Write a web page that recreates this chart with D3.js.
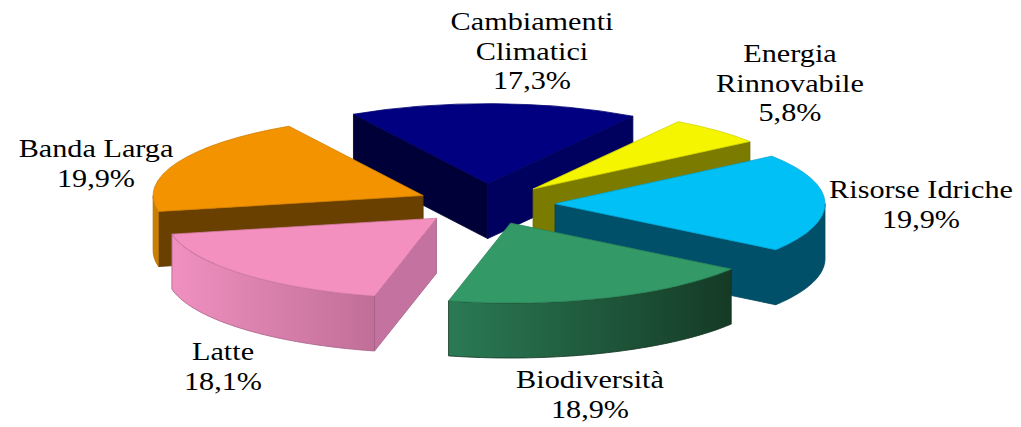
<!DOCTYPE html>
<html>
<head>
<meta charset="utf-8">
<script src="https://cdn.jsdelivr.net/npm/d3@7"></script>
<style>
  html, body { margin: 0; padding: 0; background: #fff; }
  svg { display: block; }
  text { font-family: "Liberation Serif", serif; font-size: 25px; fill: #000; }
</style>
</head>
<body>
<div id="chart"></div>
<script>
// Exploded 3D pie, clockwise starting from the back slice
const names  = ["Cambiamenti Climatici", "Energia Rinnovabile", "Risorse Idriche", "Biodiversità", "Latte", "Banda Larga"];
const values = [17.3, 5.8, 19.9, 18.9, 18.1, 19.9];
const labelLines = [
  ["Cambiamenti", "Climatici", "17,3%"],
  ["Energia", "Rinnovabile", "5,8%"],
  ["Risorse Idriche", "19,9%"],
  ["Biodiversità", "18,9%"],
  ["Latte", "18,1%"],
  ["Banda Larga", "19,9%"],
];

// styling, same order as the slices
const topColors   = ["#000080", "#f5f500", "#00c0f5", "#339966", "#f490c0", "#f39300"];
const startColors = ["#000038", "#7b7b00", "#00506a", "#16392a", "#c4729f", "#6a4000"];
const endColors   = ["#00005e", "#7b7b00", "#00506a", "#16392a", "#c4729f", "#6a4000"];
const wallFrom    = ["#000060", "#7b7b00", "#00506a", "#2a7a55", "#f090c0", "#c98000"];
const wallTo      = ["#000060", "#7b7b00", "#00506a", "#153a25", "#c06f98", "#c98000"];
const labelX = [532, 790, 921, 590, 223, 96];
const labelY = [30, 62, 198, 388, 360, 157];
const lineGap = 29.5;
const textStretch = 1.21;

const W = 1021, H = 427;
const cx = 486, cy = 204;     // pie centre before the explosion
const R = 270, squash = 0.296, depth = 55, explode = 69;
const rad = Math.PI / 180;

const svg = d3.select("#chart").append("svg").attr("width", W).attr("height", H);
const defs = svg.append("defs");

const pie = d3.pie().sort(null).value(d => d)
  .startAngle(-29.8 * rad).endAngle((360 - 29.8) * rad);
const slices = pie(values);

const arc = d3.arc().innerRadius(0).outerRadius(R);

// point on the squashed circle, compass angle (0 = up, clockwise)
const px = (a, r) => r * Math.sin(a);
const py = (a, r) => -r * Math.cos(a) * squash;

const wallArea = d3.area().x(d => d.x).y0(d => d.y).y1(d => d.y + depth);

// painter's order: back slices first
const drawOrder = [0, 5, 1, 2, 3, 4];

drawOrder.forEach(i => {
  const s = slices[i];
  const mid = (s.startAngle + s.endAngle) / 2;
  const ox = cx + px(mid, explode);
  const oy = cy + py(mid, explode);
  const g = svg.append("g").attr("transform", `translate(${ox},${oy})`);

  // straight cut faces, only when they look towards the viewer
  [[s.startAngle, s.startAngle - Math.PI / 2, startColors[i]],
   [s.endAngle,   s.endAngle + Math.PI / 2,   endColors[i]]].forEach(([a, normal, col]) => {
    if (Math.cos(normal) >= 0) return;
    const pts = [{ x: 0, y: 0 }, { x: px(a, R), y: py(a, R) }];
    g.append("path")
      .attr("d", wallArea(pts))
      .attr("fill", col)
      .attr("stroke", d3.color(col).darker(0.5))
      .attr("stroke-width", 0.8);
  });

  // rounded outer wall, front half of the circle only
  const a0 = Math.max(s.startAngle, 90 * rad);
  const a1 = Math.min(s.endAngle, 270 * rad);
  if (a1 > a0) {
    const gradId = "wall-" + i;
    const grad = defs.append("linearGradient").attr("id", gradId);
    grad.append("stop").attr("offset", "0%").attr("stop-color", wallFrom[i]);
    grad.append("stop").attr("offset", "100%").attr("stop-color", wallTo[i]);
    const pts = d3.range(a0, a1, 1 * rad).concat([a1]).map(a => ({ x: px(a, R), y: py(a, R) }));
    g.append("path")
      .attr("d", wallArea(pts))
      .attr("fill", `url(#${gradId})`)
      .attr("stroke", d3.color(wallTo[i]).darker(0.4))
      .attr("stroke-width", 0.8);
  }

  // top face
  g.append("path")
    .attr("d", arc(s))
    .attr("transform", `scale(1,${squash})`)
    .attr("fill", topColors[i])
    .attr("stroke", d3.color(topColors[i]).darker(0.4))
    .attr("stroke-width", 0.8)
    .attr("vector-effect", "non-scaling-stroke");
});

// labels
labelLines.forEach((lines, i) => {
  lines.forEach((line, j) => {
    svg.append("text")
      .attr("transform", `translate(${labelX[i]},${labelY[i] + j * lineGap}) scale(${textStretch},1)`)
      .attr("text-anchor", "middle")
      .text(line);
  });
});
</script>
</body>
</html>
